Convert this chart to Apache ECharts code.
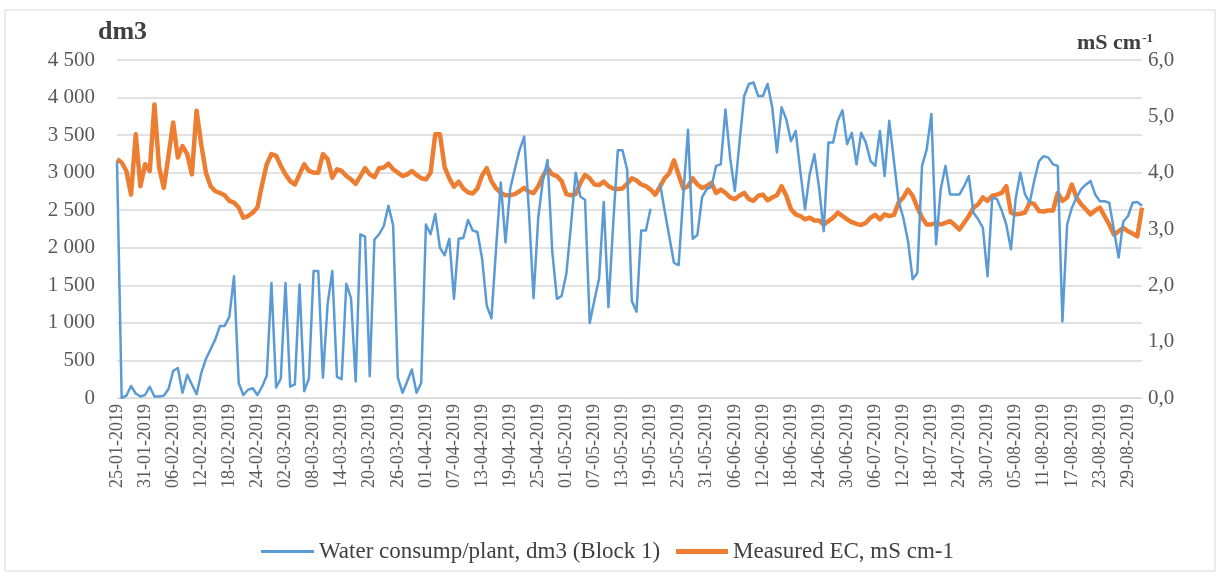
<!DOCTYPE html>
<html>
<head>
<meta charset="utf-8">
<script src="https://cdn.jsdelivr.net/npm/echarts@6/dist/echarts.min.js"></script>
<style>
html,body{margin:0;padding:0;background:#fff;}
#chart{width:1219px;height:574px;}
</style>
</head>
<body>
<div id="chart"></div>
<script>
// Category labels: daily dates from 25-01-2019 (220 days)
var startDate = [2019, 0, 25];
var dayCount = 220;
var dates = [];
for (var k = 0; k < dayCount; k++) {
  var d = new Date(Date.UTC(startDate[0], startDate[1], startDate[2] + k));
  var dd = ('0' + d.getUTCDate()).slice(-2);
  var mm = ('0' + (d.getUTCMonth() + 1)).slice(-2);
  dates.push(dd + '-' + mm + '-' + d.getUTCFullYear());
}

var seriesNames = ['Water consump/plant, dm3 (Block 1)', 'Measured EC, mS cm-1'];

// Water consumption per plant, dm3 (left axis)
var water = [
  3150, 0, 30, 160, 60, 20, 40, 150, 20, 20,
  30, 120, 360, 400, 70, 310, 180, 50, 330, 520,
  650, 780, 960, 960, 1080, 1620, 200, 40, 110, 130,
  40, 150, 300, 1530, 140, 260, 1530, 150, 180, 1510,
  90, 260, 1690, 1690, 270, 1250, 1690, 280, 250, 1520,
  1330, 220, 2180, 2150, 290, 2110, 2180, 2290, 2560, 2300,
  270, 70, 220, 380, 70, 200, 2310, 2180, 2450, 2000,
  1900, 2120, 1320, 2120, 2130, 2370, 2230, 2210, 1860, 1230,
  1060, 2000, 2870, 2070, 2780, 3050, 3300, 3480, 2500, 1330,
  2400, 2900, 3170, 1950, 1320, 1360, 1650, 2300, 3000, 2680,
  2640, 1000, 1300, 1590, 2610, 1210, 2300, 3300, 3300, 3040,
  1290, 1150, 2230, 2230, 2520, null, 2860, 2500, 2150, 1800,
  1770, 2700, 3570, 2120, 2170, 2670, 2780, 2810, 3090, 3110,
  3840, 3200, 2755, 3400, 4020, 4180, 4200, 4020, 4020, 4180,
  3870, 3270, 3870, 3710, 3420, 3555, 3020, 2510, 2980, 3245,
  2800, 2220, 3400, 3400, 3690, 3830, 3380, 3530, 3110, 3530,
  3400, 3155, 3090, 3555, 2955, 3690, 3155, 2620, 2400, 2090,
  1580, 1665, 3090, 3310, 3780, 2045, 2780, 3090, 2710, 2710,
  2710, 2820, 2955, 2465, 2380, 2265, 1620, 2665, 2650, 2500,
  2310, 1980, 2650, 3000, 2710, 2600, 2900, 3155, 3220, 3200,
  3110, 3090, 1020, 2310, 2530, 2665, 2780, 2840, 2890, 2710,
  2620, 2620, 2600, 2240, 1870, 2350, 2420, 2600, 2610, 2560
];

// Measured EC, mS cm-1 (right axis)
var ec = [
  4.24, 4.18, 4.03, 3.61, 4.68, 3.76, 4.15, 4.03, 5.21, 4.09,
  3.73, 4.30, 4.89, 4.27, 4.47, 4.33, 3.97, 5.10, 4.50, 4.00,
  3.76, 3.67, 3.64, 3.60, 3.50, 3.47, 3.38, 3.20, 3.23, 3.29,
  3.38, 3.79, 4.15, 4.33, 4.30, 4.12, 3.97, 3.85, 3.79, 3.97,
  4.15, 4.03, 4.00, 4.00, 4.33, 4.24, 3.91, 4.06, 4.03, 3.94,
  3.88, 3.80, 3.94, 4.08, 3.97, 3.92, 4.08, 4.09, 4.16, 4.06,
  4.00, 3.94, 3.97, 4.03, 3.96, 3.90, 3.88, 4.00, 4.68, 4.68,
  4.10, 3.90, 3.75, 3.84, 3.72, 3.65, 3.63, 3.72, 3.95, 4.08,
  3.85, 3.72, 3.64, 3.60, 3.60, 3.62, 3.67, 3.73, 3.66, 3.64,
  3.76, 3.94, 4.08, 3.97, 3.94, 3.85, 3.62, 3.60, 3.62, 3.82,
  3.96, 3.90, 3.79, 3.78, 3.84, 3.76, 3.72, 3.71, 3.72, 3.80,
  3.90, 3.86, 3.79, 3.76, 3.70, 3.61, 3.75, 3.90, 3.99, 4.22,
  3.96, 3.72, 3.76, 3.90, 3.79, 3.73, 3.76, 3.82, 3.64, 3.70,
  3.64, 3.56, 3.53, 3.59, 3.64, 3.53, 3.50, 3.59, 3.61, 3.51,
  3.56, 3.60, 3.76, 3.59, 3.35, 3.26, 3.23, 3.17, 3.20, 3.15,
  3.15, 3.08, 3.14, 3.20, 3.29, 3.23, 3.17, 3.12, 3.09, 3.07,
  3.11, 3.20, 3.25, 3.17, 3.26, 3.23, 3.25, 3.47, 3.56, 3.70,
  3.59, 3.38, 3.20, 3.08, 3.08, 3.11, 3.08, 3.11, 3.14, 3.07,
  2.99, 3.11, 3.23, 3.38, 3.44, 3.56, 3.50, 3.59, 3.61, 3.64,
  3.76, 3.29, 3.26, 3.27, 3.29, 3.47, 3.44, 3.32, 3.31, 3.33,
  3.33, 3.64, 3.50, 3.56, 3.79, 3.56, 3.44, 3.35, 3.26, 3.33,
  3.38, 3.23, 3.08, 2.90, 2.96, 3.02, 2.96, 2.92, 2.87, 3.38
];

var leftTicks = { min: 0, max: 4500, interval: 500 };
var rightTicks = { min: 0, max: 6, interval: 1 };
var leftUnit = 'dm3';
var rightUnit = ['mS cm', '-1'];

var serif = '"Liberation Serif", "DejaVu Serif", serif';
var labelColor = '#595959';
var titleColor = '#404040';

var chart = echarts.init(document.getElementById('chart'));
chart.setOption({
  backgroundColor: '#ffffff',
  animation: false,
  graphic: [{
    type: 'rect',
    shape: { x: 5, y: 10, width: 1210, height: 561 },
    style: { fill: 'none', stroke: '#d9d9d9', lineWidth: 1 },
    silent: true
  }, {
    type: 'text',
    left: 98, top: 19,
    style: { text: leftUnit, font: 'bold 26px ' + serif, fill: titleColor }
  }, {
    type: 'text',
    left: 1077, top: 32,
    style: {
      text: '{a|' + rightUnit[0] + '}{s|' + rightUnit[1] + '}',
      rich: {
        a: { fontFamily: serif, fontSize: 22, fontWeight: 'bold', fill: titleColor, color: titleColor },
        s: { fontFamily: serif, fontSize: 13, fontWeight: 'bold', fill: titleColor, color: titleColor, verticalAlign: 'top', padding: [0, 0, 10, 1] }
      }
    }
  }],
  grid: { left: 117, right: 77, top: 60, bottom: 176, containLabel: false },
  legend: [{
    data: [seriesNames[0]],
    left: 256, top: 535,
    icon: 'rect', itemWidth: 53, itemHeight: 3,
    textStyle: { fontFamily: serif, fontSize: 23, color: titleColor }
  }, {
    data: [seriesNames[1]],
    left: 671, top: 535,
    icon: 'rect', itemWidth: 52, itemHeight: 5,
    textStyle: { fontFamily: serif, fontSize: 23, color: titleColor }
  }],
  xAxis: {
    type: 'category',
    data: dates,
    boundaryGap: false,
    axisLine: { lineStyle: { color: '#d9d9d9', width: 1 } },
    axisTick: { show: false },
    axisLabel: {
      interval: 5, rotate: 90, margin: 6,
      fontFamily: serif, fontSize: 18, color: labelColor
    },
    splitLine: { show: false }
  },
  yAxis: [{
    type: 'value',
    min: leftTicks.min, max: leftTicks.max, interval: leftTicks.interval,
    axisLine: { show: false },
    axisTick: { show: false },
    axisLabel: {
      margin: 22, fontFamily: serif, fontSize: 21, color: labelColor,
      formatter: function (v) { return String(v).replace(/\B(?=(\d{3})+(?!\d))/g, ' '); }
    },
    splitLine: { lineStyle: { color: '#d9d9d9', width: 1.5 } }
  }, {
    type: 'value',
    min: rightTicks.min, max: rightTicks.max, interval: rightTicks.interval,
    axisLine: { show: false },
    axisTick: { show: false },
    axisLabel: {
      margin: 6, fontFamily: serif, fontSize: 21, color: labelColor,
      formatter: function (v) { return v.toFixed(1).replace('.', ','); }
    },
    splitLine: { show: false }
  }],
  series: [{
    name: seriesNames[1],
    type: 'line',
    yAxisIndex: 1,
    data: ec,
    showSymbol: false,
    symbol: 'none',
    lineStyle: { color: '#ED7D31', width: 4.5, join: 'round' },
    itemStyle: { color: '#ED7D31' },
    z: 2
  }, {
    name: seriesNames[0],
    type: 'line',
    yAxisIndex: 0,
    data: water,
    showSymbol: false,
    symbol: 'none',
    connectNulls: false,
    lineStyle: { color: '#5B9BD5', width: 2.5, join: 'round' },
    itemStyle: { color: '#5B9BD5' },
    z: 3
  }]
});
</script>
</body>
</html>
